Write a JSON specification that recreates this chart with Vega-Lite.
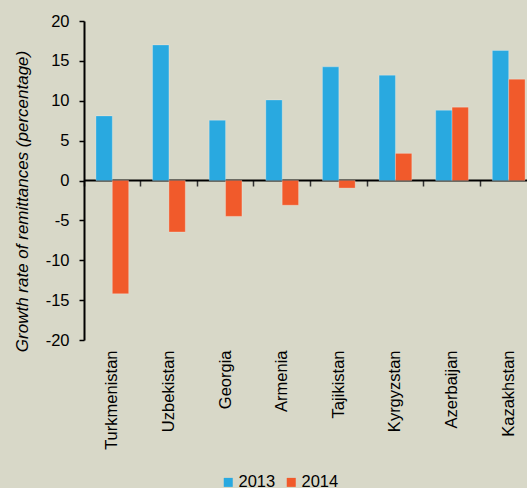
{
  "$schema": "https://vega.github.io/schema/vega-lite/v6.json",
  "width": 443,
  "height": 319,
  "autosize": {"type": "none"},
  "padding": {"left": 84, "top": 21, "right": 0, "bottom": 148},
  "background": "#d8d8c8",
  "config": {
    "view": {"stroke": null},
    "font": "Liberation Sans",
    "axis": {"labelFont": "Liberation Sans", "titleFont": "Liberation Sans", "labelColor": "#000000", "titleColor": "#000000"}
  },
  "data": {
    "values": [
      {"country": "Turkmenistan", "year": "2013", "value": 8.1},
      {"country": "Turkmenistan", "year": "2014", "value": -14.2},
      {"country": "Uzbekistan", "year": "2013", "value": 17.0},
      {"country": "Uzbekistan", "year": "2014", "value": -6.45},
      {"country": "Georgia", "year": "2013", "value": 7.55},
      {"country": "Georgia", "year": "2014", "value": -4.5},
      {"country": "Armenia", "year": "2013", "value": 10.1},
      {"country": "Armenia", "year": "2014", "value": -3.1},
      {"country": "Tajikistan", "year": "2013", "value": 14.25},
      {"country": "Tajikistan", "year": "2014", "value": -0.95},
      {"country": "Kyrgyzstan", "year": "2013", "value": 13.2},
      {"country": "Kyrgyzstan", "year": "2014", "value": 3.4},
      {"country": "Azerbaijan", "year": "2013", "value": 8.8},
      {"country": "Azerbaijan", "year": "2014", "value": 9.2},
      {"country": "Kazakhstan", "year": "2013", "value": 16.3},
      {"country": "Kazakhstan", "year": "2014", "value": 12.7}
    ]
  },
  "mark": {"type": "bar", "stroke": "#ffffff", "strokeOpacity": 0.25, "strokeWidth": 1},
  "encoding": {
    "x": {
      "field": "country",
      "type": "nominal",
      "sort": null,
      "scale": {"range": [0, 453], "paddingInner": 0, "paddingOuter": 0},
      "axis": {
        "title": null,
        "offset": -160,
        "bandPosition": 0,
        "domainColor": "#000000",
        "domainWidth": 2,
        "tickColor": "#333333",
        "tickWidth": 1.5,
        "tickSize": 6,
        "labelAngle": -90,
        "labelFontSize": 16.5,
        "labelPadding": 164
      }
    },
    "xOffset": {
      "field": "year",
      "type": "nominal",
      "scale": {"paddingInner": 0, "paddingOuter": 0.73}
    },
    "y": {
      "field": "value",
      "type": "quantitative",
      "scale": {"domain": [-20, 20], "nice": false},
      "axis": {
        "title": "Growth rate of remittances (percentage)",
        "titleFontStyle": "italic",
        "titleFontWeight": "normal",
        "titleFontSize": 17,
        "titleX": -57,
        "titleY": 180,
        "titleBaseline": "alphabetic",
        "titleAngle": -90,
        "titleAlign": "center",
        "values": [-20, -15, -10, -5, 0, 5, 10, 15, 20],
        "labelExpr": "replace(datum.label, '\u2212', '-')",
        "grid": false,
        "domainColor": "#000000",
        "domainWidth": 2,
        "tickColor": "#000000",
        "tickWidth": 1.5,
        "tickSize": 5,
        "labelFontSize": 16.5,
        "labelPadding": 10
      }
    },
    "color": {
      "field": "year",
      "type": "nominal",
      "scale": {"domain": ["2013", "2014"], "range": ["#29a9e0", "#f15a2b"]},
      "legend": {
        "title": null,
        "orient": "none",
        "direction": "horizontal",
        "legendX": 136,
        "legendY": 453,
        "symbolType": "square",
        "symbolSize": 81,
        "symbolStrokeWidth": 0,
        "labelFontSize": 16.5,
        "labelFont": "Liberation Sans",
        "labelColor": "#000000",
        "labelOffset": 2,
        "columnPadding": 7
      }
    }
  }
}
